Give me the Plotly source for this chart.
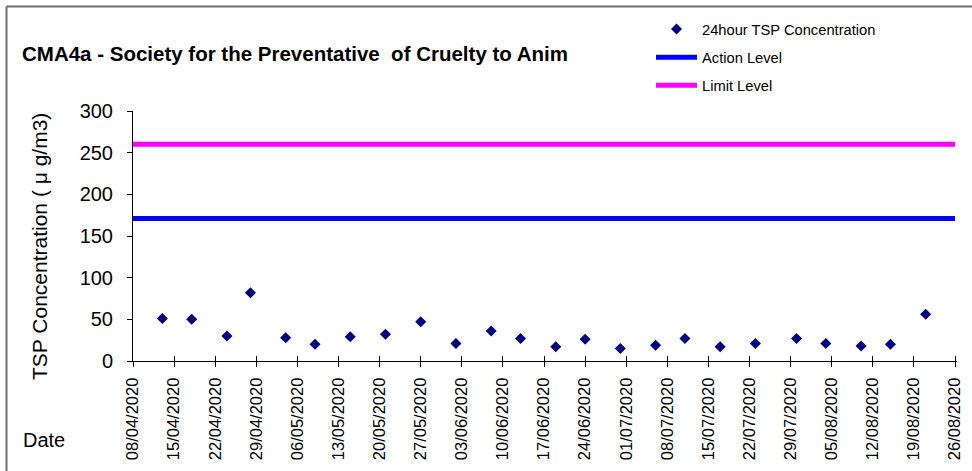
import plotly.graph_objects as go

# ---- data ----
sample_dates = ["2020-04-13", "2020-04-18", "2020-04-24", "2020-04-28", "2020-05-04",
                "2020-05-09", "2020-05-15", "2020-05-21", "2020-05-27", "2020-06-02",
                "2020-06-08", "2020-06-13", "2020-06-19", "2020-06-24", "2020-06-30",
                "2020-07-06", "2020-07-11", "2020-07-17", "2020-07-23", "2020-07-30",
                "2020-08-04", "2020-08-10", "2020-08-15", "2020-08-21"]
tsp_values = [51, 50, 30, 82, 28, 20, 29, 32, 47, 21,
              36, 27, 17, 26, 15, 19, 27, 17, 21, 27,
              21, 18, 20, 56]
level_dates = ["2020-04-08", "2020-08-26"]
action_level = [171, 171]
limit_level = [260, 260]

FONT = "Liberation Sans, Arial, sans-serif"

W, H = 972, 471
L, R, T, B = 133, 15, 111, 110
pw = W - L - R
ph = H - T - B

def px_x(p):
    return (p - L) / pw

def px_y(p):
    return (H - B - p) / ph

fig = go.Figure()
fig.add_trace(go.Scatter(
    x=sample_dates, y=tsp_values, mode="markers", name="24hour TSP Concentration",
    marker=dict(symbol="diamond", size=8.5, color="#000080"),
    legendgroup="a"))
fig.add_trace(go.Scatter(
    x=level_dates, y=action_level, mode="lines", name="Action Level",
    line=dict(color="#0000FF", width=5), legendgroup="b"))
fig.add_trace(go.Scatter(
    x=level_dates, y=limit_level, mode="lines", name="Limit Level",
    line=dict(color="#FF00FF", width=5), legendgroup="c"))

fig.update_layout(
    width=W, height=H,
    margin=dict(l=L, r=R, t=T, b=B, autoexpand=False),
    paper_bgcolor="white", plot_bgcolor="white",
    font=dict(family=FONT, color="black"),
    title=dict(text="CMA4a - Society for the Preventative \u00a0of Cruelty to Anim",
               x=22 / W, xanchor="left", xref="container",
               y=1 - 54 / H, yanchor="middle", yref="container",
               font=dict(size=20.5, family=FONT, color="black", weight="bold")),
    showlegend=True,
    legend=dict(x=px_x(651), y=px_y(13), xanchor="left", yanchor="top",
                bgcolor="rgba(255,255,255,0)", font=dict(size=14.7, family=FONT),
                tracegroupgap=6, itemwidth=41),
    xaxis=dict(
        type="date", range=["2020-04-08", "2020-08-26 08:00"],
        tick0="2020-04-08", dtick=7 * 86400000, tickformat="%d/%m/%Y",
        tickangle=-90, ticks="outside", ticklen=5, tickcolor="black",
        showline=True, linecolor="black", linewidth=1, showgrid=False,
        zeroline=False, tickfont=dict(size=16.5, family=FONT), ticklabelstandoff=4),
    xaxis2=dict(
        type="date", range=["2020-04-08", "2020-08-26 08:00"], overlaying="x",
        tick0="2020-04-08", dtick=7 * 86400000, ticks="inside", ticklen=5,
        tickcolor="black", showticklabels=False, showgrid=False, showline=False,
        zeroline=False),
    yaxis=dict(
        range=[0, 300], dtick=50, ticks="outside", ticklen=5, tickcolor="black",
        showline=True, linecolor="black", linewidth=1, showgrid=False, zeroline=False,
        tickfont=dict(size=20, family=FONT), ticklabelstandoff=10),
)
# overlay axis only carries the inward half of the crossing x ticks
fig.add_trace(go.Scatter(x=level_dates, y=[None, None], xaxis="x2", showlegend=False,
                         hoverinfo="skip"))

fig.add_annotation(text="TSP Concentration ( \u03bc g/m3)", textangle=-90,
                   x=px_x(39), y=px_y(247), xref="paper", yref="paper",
                   xanchor="center", yanchor="middle", showarrow=False,
                   font=dict(size=21, family=FONT))
fig.add_annotation(text="Date", x=px_x(44), y=px_y(440), xref="paper", yref="paper",
                   xanchor="center", yanchor="middle", showarrow=False,
                   font=dict(size=20, family=FONT))

# chart-area frame (left and top edges visible)
fig.add_shape(type="line", xref="paper", yref="paper",
              x0=px_x(6.5), x1=px_x(6.5), y0=px_y(6.5), y1=px_y(475),
              line=dict(color="#707070", width=2))
fig.add_shape(type="line", xref="paper", yref="paper",
              x0=px_x(6.5), x1=px_x(980), y0=px_y(6.5), y1=px_y(6.5),
              line=dict(color="#707070", width=2))

fig.write_html("out.html", config={"displayModeBar": False},
               post_script="document.body.style.margin='0';")
